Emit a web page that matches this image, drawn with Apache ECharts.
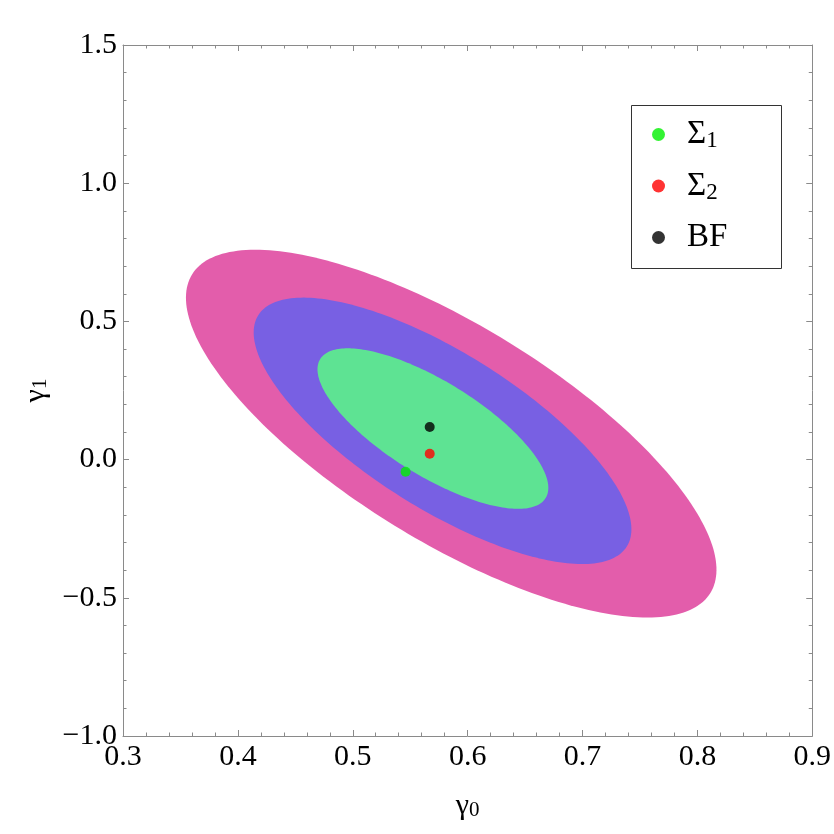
<!DOCTYPE html>
<html>
<head>
<meta charset="utf-8">
<script src="https://cdn.jsdelivr.net/npm/echarts@6/dist/echarts.min.js"></script>
<style>html,body{margin:0;padding:0;background:#fff}#c{width:834px;height:834px}</style>
</head>
<body>
<div id="c"></div>
<script>
// ---- data ----
// points on the boundary of each confidence contour (clockwise from the left-most point)
const contour3X = [0.3608, 0.3668, 0.3781, 0.3929, 0.4215, 0.4649, 0.4944, 0.5231, 0.5578, 0.5969, 0.6272, 0.6620, 0.7054, 0.7488, 0.7748, 0.7948, 0.8156, 0.8234, 0.8182, 0.8034, 0.7661, 0.7314, 0.6880, 0.6446, 0.5977, 0.5404, 0.5057, 0.4684, 0.4276, 0.4016, 0.3877, 0.3781, 0.3703, 0.3642];
const contour3Y = [0.5666, 0.6498, 0.7149, 0.7511, 0.7692, 0.7475, 0.7113, 0.6679, 0.6027, 0.5195, 0.4399, 0.3350, 0.1867, 0.0347, -0.0666, -0.1715, -0.3018, -0.4284, -0.5008, -0.5369, -0.5623, -0.5442, -0.4971, -0.4465, -0.3633, -0.2475, -0.1751, -0.0738, 0.0709, 0.2084, 0.2807, 0.3459, 0.4146, 0.4870];
const contour2X = [0.4146, 0.4172, 0.4250, 0.4363, 0.4562, 0.4797, 0.5083, 0.5352, 0.5665, 0.5977, 0.6272, 0.6620, 0.6906, 0.7166, 0.7314, 0.7401, 0.7462, 0.7418, 0.7314, 0.7028, 0.6732, 0.6446, 0.5977, 0.5404, 0.4823, 0.4597, 0.4450, 0.4302, 0.4189];
const contour2Y = [0.4580, 0.5159, 0.5521, 0.5774, 0.5846, 0.5828, 0.5521, 0.5123, 0.4544, 0.3893, 0.3169, 0.1903, 0.0709, -0.0377, -0.1172, -0.1715, -0.2656, -0.3235, -0.3524, -0.3705, -0.3524, -0.3271, -0.2728, -0.1353, 0.0419, 0.1324, 0.2048, 0.2880, 0.3712];
const contour1X = [0.4710, 0.4736, 0.4823, 0.4970, 0.5170, 0.5352, 0.5665, 0.5977, 0.6281, 0.6533, 0.6620, 0.6680, 0.6724, 0.6663, 0.6472, 0.6133, 0.5925, 0.5665, 0.5430, 0.5057, 0.4970, 0.4858, 0.4736];
const contour1Y = [0.3169, 0.3676, 0.3965, 0.4037, 0.3965, 0.3712, 0.3169, 0.2409, 0.1360, 0.0275, -0.0087, -0.0557, -0.1028, -0.1534, -0.1751, -0.1534, -0.1209, -0.0774, -0.0232, 0.0962, 0.1252, 0.1794, 0.2626];

const pointNames = ['Σ1', 'Σ2', 'BF'];
const pointX = [0.546, 0.567, 0.567];
const pointY = [-0.044, 0.021, 0.118];

const xTicks = [0.3, 0.4, 0.5, 0.6, 0.7, 0.8, 0.9];
const yTicks = [-1.0, -0.5, 0.0, 0.5, 1.0, 1.5];

// ---- styles ----
const contourColors = ['#E35DAB', '#7860E3', '#5EE393'];
const pointColors = ['#00F000', '#FF0000', '#000000'];
const FONT = '"Liberation Serif", "Times New Roman", serif';

const contours = [[contour3X, contour3Y], [contour2X, contour2Y], [contour1X, contour1Y]];

// weighted least-squares conic (ellipse) through the boundary points, in pixel space
function solve(M, v) {
  const n = v.length;
  const a = M.map((r, i) => r.concat([v[i]]));
  for (let i = 0; i < n; i++) {
    let p = i;
    for (let j = i + 1; j < n; j++) if (Math.abs(a[j][i]) > Math.abs(a[p][i])) p = j;
    [a[i], a[p]] = [a[p], a[i]];
    for (let j = i + 1; j < n; j++) {
      const f = a[j][i] / a[i][i];
      for (let k = i; k <= n; k++) a[j][k] -= f * a[i][k];
    }
  }
  const x = new Array(n).fill(0);
  for (let i = n - 1; i >= 0; i--) {
    let s = a[i][n];
    for (let k = i + 1; k < n; k++) s -= a[i][k] * x[k];
    x[i] = s / a[i][i];
  }
  return x;
}

function ellipseOutline(pts) {
  const mx = pts.reduce((s, p) => s + p[0], 0) / pts.length;
  const my = pts.reduce((s, p) => s + p[1], 0) / pts.length;
  // extreme points (left/right/top/bottom) count more so the extents are kept
  const xs = pts.map(p => p[0]), ys = pts.map(p => p[1]);
  const ext = new Set([xs.indexOf(Math.min(...xs)), xs.indexOf(Math.max(...xs)),
                       ys.indexOf(Math.min(...ys)), ys.indexOf(Math.max(...ys))]);
  const S = 100;
  const N = Array.from({ length: 5 }, () => new Array(5).fill(0));
  const b = new Array(5).fill(0);
  pts.forEach((p, idx) => {
    const x = (p[0] - mx) / S, y = (p[1] - my) / S;
    const w = ext.has(idx) ? 4 : 1;
    const r = [x * x, x * y, y * y, x, y];
    for (let i = 0; i < 5; i++) {
      b[i] += w * r[i];
      for (let j = 0; j < 5; j++) N[i][j] += w * r[i] * r[j];
    }
  });
  const [A, B, C, D, E] = solve(N, b);
  const det = 4 * A * C - B * B;
  const x0 = (B * E - 2 * C * D) / det;
  const y0 = (B * D - 2 * A * E) / det;
  const k = 1 + A * x0 * x0 + B * x0 * y0 + C * y0 * y0;
  const phi = 0.5 * Math.atan2(B, A - C);
  const c = Math.cos(phi), s = Math.sin(phi);
  const l1 = A * c * c + B * c * s + C * s * s;
  const l2 = A * s * s - B * c * s + C * c * c;
  const a1 = Math.sqrt(k / l1), a2 = Math.sqrt(k / l2);
  const out = [];
  for (let i = 0; i < 240; i++) {
    const t = 2 * Math.PI * i / 240;
    const u = a1 * Math.cos(t), v = a2 * Math.sin(t);
    out.push([mx + S * (x0 + u * c - v * s), my + S * (y0 + u * s + v * c)]);
  }
  return out;
}

const chart = echarts.init(document.getElementById('c'));

function renderContour(params, api) {
  const cdat = contours[params.dataIndex];
  const pts = cdat[0].map((x, k) => api.coord([x, cdat[1][k]]));
  return {
    type: 'polygon',
    shape: { points: ellipseOutline(pts) },
    style: { fill: contourColors[params.dataIndex] }
  };
}

const fmt = v => (Math.round(v * 10) / 10).toFixed(1).replace('-', '\u2212');

const axisCommon = {
  axisLine: { show: true, onZero: false, lineStyle: { color: '#8a8a8a', width: 1 } },
  axisTick: { show: true, inside: true, length: 6, lineStyle: { color: '#8a8a8a' } },
  minorTick: { show: true, splitNumber: 5, length: 3.5, lineStyle: { color: '#8a8a8a' } },
  splitLine: { show: false }
};

const xMin = xTicks[0], xMax = xTicks[xTicks.length - 1];
const yMin = yTicks[0], yMax = yTicks[yTicks.length - 1];

chart.setOption({
  animation: false,
  backgroundColor: '#fff',
  grid: { left: 123, right: 20, top: 45, bottom: 98 },
  xAxis: [
    Object.assign({
      type: 'value', position: 'bottom', min: xMin, max: xMax, interval: 0.1,
      name: 'γ{sub|0}', nameLocation: 'middle', nameGap: 55,
      nameTextStyle: { fontFamily: FONT, fontSize: 30, color: '#000',
        rich: { sub: { fontFamily: FONT, fontSize: 21, color: '#000', padding: [8, 0, 0, 0] } } },
      axisLabel: { fontFamily: FONT, fontSize: 30, color: '#000', margin: 6, formatter: fmt }
    }, axisCommon),
    Object.assign({
      type: 'value', position: 'top', min: xMin, max: xMax, interval: 0.1,
      axisLabel: { show: false }
    }, axisCommon)
  ],
  yAxis: [
    Object.assign({
      type: 'value', position: 'left', min: yMin, max: yMax, interval: 0.5,
      name: 'γ{sub|1}', nameLocation: 'middle', nameGap: 72, nameRotate: 90,
      nameTextStyle: { fontFamily: FONT, fontSize: 30, color: '#000',
        rich: { sub: { fontFamily: FONT, fontSize: 21, color: '#000', padding: [8, 0, 0, 0] } } },
      axisLabel: { fontFamily: FONT, fontSize: 30, color: '#000', margin: 6, formatter: fmt }
    }, axisCommon),
    Object.assign({
      type: 'value', position: 'right', min: yMin, max: yMax, interval: 0.5,
      axisLabel: { show: false }
    }, axisCommon)
  ],
  legend: {
    data: pointNames,
    orient: 'vertical',
    left: 652, top: 118,
    itemWidth: 13, itemHeight: 13, itemGap: 17, itemTextGap: 5,
    icon: 'circle',
    padding: 0,
    formatter: n => n === 'BF' ? '{gap|}BF' : '{gap|}Σ{sub|' + n.slice(1) + '}',
    textStyle: { fontFamily: FONT, fontSize: 33, color: '#000', lineHeight: 32,
      rich: {
        gap: { width: 17, fontSize: 33 },
        sub: { fontFamily: FONT, fontSize: 23, color: '#000', padding: [13, 0, 0, 0] }
      } }
  },
  graphic: [{
    type: 'rect', left: 629, top: 103,
    shape: { width: 150, height: 163 },
    style: { fill: 'none', stroke: '#333', lineWidth: 1 },
    z: 100
  }],
  series: [
    {
      type: 'custom', name: 'contours', renderItem: renderContour,
      data: contours.map(c => [c[0][0], c[1][0]]), encode: { x: 0, y: 1 },
      clip: true, silent: true, z: 1
    }
  ].concat(pointNames.map((n, i) => ({
    type: 'scatter', name: n, symbol: 'circle', symbolSize: 10,
    itemStyle: { color: pointColors[i] },
    data: [[pointX[i], pointY[i]]], z: 5
  })))
});
</script>
</body>
</html>
